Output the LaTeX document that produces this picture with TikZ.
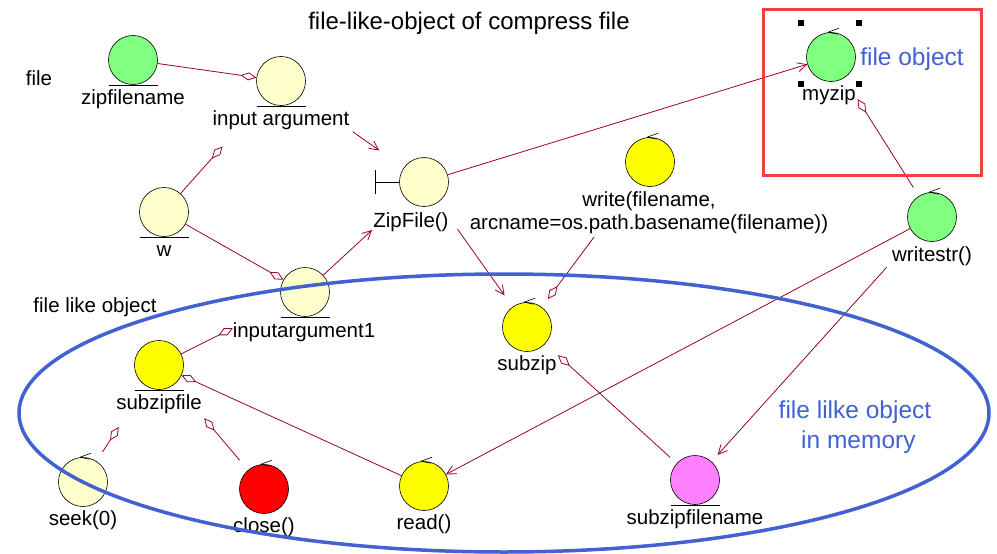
\documentclass[tikz,border=0pt]{standalone}
\usepackage{fontspec}
\setmainfont{Liberation Sans}
\usepackage{tikz}
\usetikzlibrary{arrows.meta}
\definecolor{LinkRed}{HTML}{990033}
\definecolor{ObjGreen}{HTML}{80FF80}
\definecolor{ObjCream}{HTML}{FFFFCC}
\definecolor{ObjYellow}{HTML}{FFFF00}
\definecolor{ObjRed}{HTML}{FF0000}
\definecolor{ObjPink}{HTML}{FF80FF}
\definecolor{NoteBlue}{HTML}{4262D2}
\definecolor{FrameRed}{HTML}{F04040}
\tikzset{
  OB/.style={circle,draw=black,line width=0.6pt,
             minimum size=49pt,inner sep=0pt},
  oG/.style={OB,fill=ObjGreen},
  oC/.style={OB,fill=ObjCream},
  oY/.style={OB,fill=ObjYellow},
  oR/.style={OB,fill=ObjRed},
  oP/.style={OB,fill=ObjPink},
  LB/.style={anchor=base,inner sep=0pt,align=center,
             font=\fontsize{20.5}{23}\selectfont},
  NB/.style={LB,text=NoteBlue,font=\fontsize{24.5}{30}\selectfont},
  nav/.style={draw=LinkRed,line width=0.8pt,
              -{Straight Barb[length=9pt,width=9pt]}},
  agg/.style={draw=LinkRed,line width=0.8pt,
              -{Diamond[open,length=16pt,width=8pt]}}
}
\begin{document}
\begin{tikzpicture}[x=1pt,y=-1pt]
  \useasboundingbox (0,0) rectangle (997,554);
  \fill[white] (0,0) rectangle (997,554);

  \node[LB,font=\fontsize{24}{28}\selectfont] (title) at (469,30) {file-like-object of compress file};
  \node[LB] (filetxt) at (39,85) {file};
  \node[LB] (fltxt) at (95,312) {file like object};

  \node[oG] (zipfilename) at (133,60) {};
  \node[oC] (inputarg) at (281,81) {};
  \node[oC] (w) at (164,212) {};
  \node[oC] (zipfile) at (424,182) {};
  \node[oC] (inputarg1) at (305,292) {};
  \node[oY] (write) at (650,162) {};
  \node[oY] (subzip) at (527,327) {};
  \node[oY] (subzipfile) at (159,365) {};
  \node[oC] (seek) at (83,482) {};
  \node[oR] (close) at (264,489) {};
  \node[oY] (read) at (424,486) {};
  \node[oP] (subzipfilename) at (695,480) {};
  \node[oG] (writestr) at (932,217) {};
  \node[oG] (myzip) at (831,57) {};

  \node[LB] (zipfilename lbl) at (133,104) {zipfilename};
  \node[LB] (inputarg lbl) at (281,125) {input argument};
  \node[LB] (w lbl) at (164,256) {w};
  \node[LB] (zipfile lbl) at (411,227) {ZipFile()};
  \node[LB] (inputarg1 lbl) at (304,337) {inputargument1};
  \node[LB] (write lbl) at (649,229) {write(filename,\\arcname=os.path.basename(filename))};
  \node[LB] (subzip lbl) at (527,370) {subzip};
  \node[LB] (subzipfile lbl) at (159,409) {subzipfile};
  \node[LB] (seek lbl) at (83,525) {seek(0)};
  \node[LB] (close lbl) at (264,532) {close()};
  \node[LB] (read lbl) at (424,529) {read()};
  \node[LB] (subzipfilename lbl) at (695,524) {subzipfilename};
  \node[LB] (writestr lbl) at (932,261) {writestr()};
  \node[LB] (myzip lbl) at (829,100) {myzip};

  \foreach \n in {zipfilename,inputarg,w,inputarg1,subzipfile,subzipfilename}
    \draw[line width=0.6pt] ([xshift=-24.5pt]\n.south) -- ([xshift=24.5pt]\n.south);
  \foreach \n in {write,subzip,seek,close,read,writestr,myzip}
    \draw[line width=0.6pt] ([xshift=8pt,yshift=4pt]\n.north) -- ([xshift=-3pt]\n.north)
      -- ([xshift=7pt,yshift=-2pt]\n.north);
  \draw[line width=0.6pt] (zipfile.west) -- ++(-24,0) ++(0,-12) -- ++(0,24);

  \draw[agg] (zipfilename) -- (inputarg);
  \draw[agg,shorten >=63pt] (w) -- (inputarg);
  \draw[nav,shorten <=63pt,shorten >=30pt] (inputarg) -- (zipfile);
  \draw[nav] (zipfile) -- (myzip);
  \draw[agg] (w) -- (inputarg1);
  \draw[nav,shorten >=46pt] (inputarg1) -- (zipfile);
  \draw[nav,shorten <=33pt,shorten >=14pt] (zipfile) -- (subzip);
  \draw[agg,shorten <=69pt,shorten >=10pt] (write) -- (subzip);
  \draw[agg,shorten >=56pt] (subzipfile) -- (inputarg1);
  \draw[agg] (read) -- (subzipfile);
  \draw[agg,shorten <=11pt,shorten >=49pt] (seek) -- (subzipfile);
  \draw[agg,shorten <=13pt,shorten >=45pt] (close) -- (subzipfile);
  \draw[agg,shorten <=9pt,shorten >=17pt] (subzipfilename) -- (subzip);
  \draw[nav] (writestr) -- (read);
  \draw[nav,shorten <=43pt,shorten >=9pt] (writestr) -- (subzipfilename);
  \draw[agg,shorten <=10pt,shorten >=25pt] (writestr) -- (myzip);

  \foreach \hx/\hy in {801/23,859/23,801/84,859/84}
    \fill[black] (\hx-3,\hy-3) rectangle (\hx+3,\hy+3);
  \draw[FrameRed,line width=3pt] (763,9) rectangle (981,175);
  \node[NB] (fileobj) at (912,65) {file object};
  \node[NB] (memtxt) at (855,448) {file lilke object\\\ in memory};
  \draw[NoteBlue,line width=3.5pt] (504,413) ellipse [x radius=485pt,y radius=139pt];
\end{tikzpicture}
\end{document}
